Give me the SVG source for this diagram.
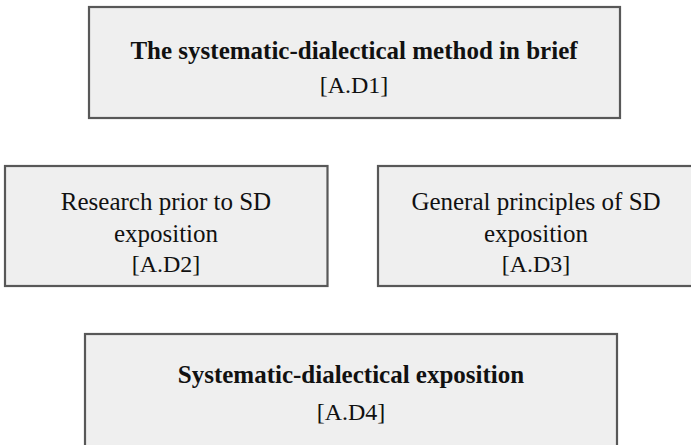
<svg xmlns="http://www.w3.org/2000/svg" width="691" height="445" viewBox="0 0 691 445">
<style>
.box{fill:#efefef;stroke:#585858;stroke-width:2.2}
.t{font-family:"Liberation Serif","Times New Roman",serif;fill:#111;text-anchor:middle}
.b{font-weight:bold;font-size:25px}
.r{font-size:25px}
.s{font-size:24px}
</style>
<rect width="691" height="445" fill="#ffffff"/>
<g id="connectors"></g>
<g id="node-AD1">
<rect class="box" x="89" y="7" width="531" height="111"/>
<text class="t b" x="354" y="59">The systematic-dialectical method in brief</text>
<text class="t s" x="354" y="93">[A.D1]</text>
</g>
<g id="node-AD2">
<rect class="box" x="5" y="166" width="322.5" height="120"/>
<text class="t r" x="166" y="210">Research prior to SD</text>
<text class="t r" x="166" y="242">exposition</text>
<text class="t s" x="166" y="272">[A.D2]</text>
</g>
<g id="node-AD3">
<rect class="box" x="378" y="166" width="318" height="120"/>
<text class="t r" x="536" y="210">General principles of SD</text>
<text class="t r" x="536" y="242">exposition</text>
<text class="t s" x="536" y="272">[A.D3]</text>
</g>
<g id="node-AD4">
<rect class="box" x="85" y="334" width="532" height="120"/>
<text class="t b" x="351" y="383">Systematic-dialectical exposition</text>
<text class="t s" x="351" y="420">[A.D4]</text>
</g>
</svg>
